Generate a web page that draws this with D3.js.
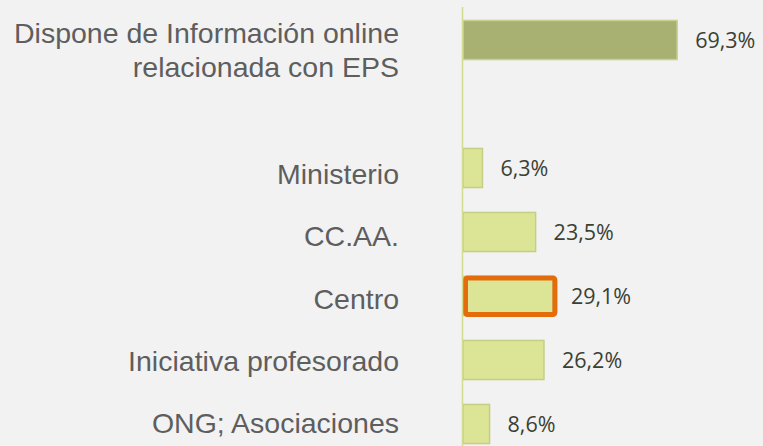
<!DOCTYPE html>
<html>
<head>
<meta charset="utf-8">
<script src="https://cdn.jsdelivr.net/npm/d3@7"></script>
<style>
  html, body { margin: 0; padding: 0; background: #f2f2f2; }
  svg { display: block; }
</style>
</head>
<body>
<div id="container"></div>
<script>
let categories = ['Dispone de Información online|relacionada con EPS', '', 'Ministerio', 'CC.AA.', 'Centro', 'Iniciativa profesorado', 'ONG; Asociaciones']
let values = [69.3, null, 6.3, 23.5, 29.1, 26.2, 8.6]
let valueLabels = ['69,3%', '', '6,3%', '23,5%', '29,1%', '26,2%', '8,6%']
let highlighted = ['Centro']

let data = categories.map((c, i) => ({ cat: c, value: values[i], label: valueLabels[i], index: i }))
  .filter(d => d.value !== null)

let svgWidth = 763;
let svgHeight = 446;
let axisX = 463;

let svg = d3.select('#container')
  .append('svg')
  .attr('width', svgWidth)
  .attr('height', svgHeight);

svg.append('rect')
  .attr('width', svgWidth)
  .attr('height', svgHeight)
  .attr('fill', '#f2f2f2');

let x = d3.scaleLinear()
  .domain([0, 100])
  .range([axisX, axisX + 309]);

let y = d3.scaleBand()
  .domain(categories)
  .range([8, 456])
  .paddingInner(0.39)
  .paddingOuter(0.195);

// labels sit on a slightly tighter spacing than the bars
let yLabel = d3.scalePoint()
  .domain(categories)
  .range([50, 423]);

svg.selectAll('rect.bar')
  .data(data)
  .enter()
  .append('rect')
  .attr('class', 'bar')
  .attr('x', x(0))
  .attr('y', d => y(d.cat))
  .attr('width', d => x(d.value) - x(0))
  .attr('height', y.bandwidth())
  .attr('fill', d => d.index === 0 ? '#a8b072' : '#dce496')
  .attr('stroke', d => d.index === 0 ? '#c9d08f' : '#c6cd87')
  .attr('stroke-width', 1.5);

// highlight box
svg.selectAll('rect.hl')
  .data(data.filter(d => highlighted.includes(d.cat)))
  .enter()
  .append('rect')
  .attr('class', 'hl')
  .attr('x', x(0) + 2.5)
  .attr('y', d => y(d.cat) + 1.5)
  .attr('width', d => x(d.value) - x(0) - 0.5)
  .attr('height', y.bandwidth() - 2.5)
  .attr('rx', 2)
  .attr('fill', 'none')
  .attr('stroke', '#e46c0a')
  .attr('stroke-width', 5);

// vertical axis line
svg.append('line')
  .attr('x1', axisX - 0.5)
  .attr('x2', axisX - 0.5)
  .attr('y1', 7)
  .attr('y2', svgHeight)
  .attr('stroke', '#d3db8f')
  .attr('stroke-width', 1.5);

// value labels
svg.selectAll('text.val')
  .data(data)
  .enter()
  .append('text')
  .attr('class', 'val')
  .attr('x', d => x(d.value) + 18)
  .attr('y', d => y(d.cat) + y.bandwidth() / 2)
  .attr('dy', '0.36em')
  .attr('font-family', '"Open Sans", sans-serif')
  .attr('font-size', 21.5)
  .attr('fill', '#3a4032')
  .text(d => d.label);

// category labels
let catText = svg.selectAll('text.cat')
  .data(categories.filter(c => c !== ''))
  .enter()
  .append('text')
  .attr('class', 'cat')
  .attr('x', 399)
  .attr('y', d => yLabel(d))
  .attr('text-anchor', 'end')
  .attr('font-family', '"Liberation Sans", Arial, sans-serif')
  .attr('font-size', 28.5)
  .attr('fill', '#5e5e5e');

catText.each(function(d) {
  let lines = d.split('|');
  let t = d3.select(this);
  lines.forEach((line, i) => {
    t.append('tspan')
      .attr('x', 399)
      .attr('dy', i === 0 ? (0.35 - (lines.length - 1) * 0.6) + 'em' : '1.2em')
      .text(line);
  });
});
</script>
</body>
</html>
